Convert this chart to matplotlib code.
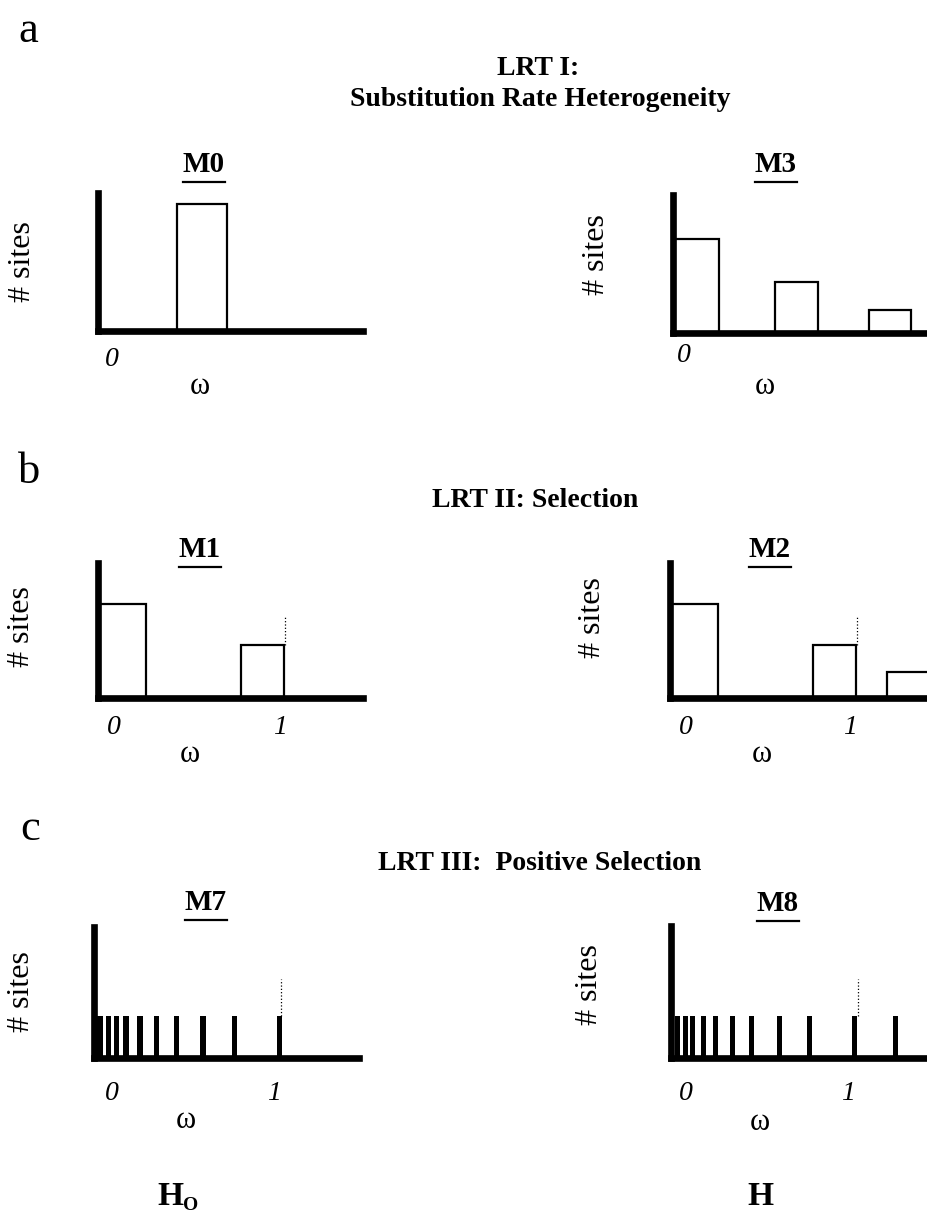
import numpy as np
import matplotlib
matplotlib.use("Agg")
import matplotlib.pyplot as plt
from matplotlib.lines import Line2D

W, H = 928, 1215
DPI = 100
PX_PER_UNIT = 187.0   # pixels per unit of omega
AX_W = 265            # axis length in pixels

plt.rcParams['font.family'] = ['Liberation Serif', 'DejaVu Serif']

# omega classes (bar centres), bar widths and proportion of sites
m0_omega = [0.555]
m0_width = [0.27]
m0_sites = [0.92]

m3_omega = [0.1225, 0.66, 1.16]
m3_width = [0.245, 0.23, 0.225]
m3_sites = [0.68, 0.37, 0.17]

m1_omega = [0.1275, 0.88]
m1_width = [0.255, 0.23]
m1_sites = [0.70, 0.39]

m2_omega = [0.1275, 0.88, 1.275]
m2_width = [0.255, 0.23, 0.23]
m2_sites = [0.70, 0.39, 0.19]

# beta distribution discretised into 10 classes (M7), plus one class with omega > 1 (M8)
m7_omega = [0.032, 0.080, 0.118, 0.171, 0.246, 0.332, 0.439, 0.583, 0.749, 0.990]
m7_sites = [0.32, 0.32, 0.32, 0.32, 0.32, 0.32, 0.32, 0.32, 0.32, 0.32]

m8_omega = [0.035, 0.075, 0.115, 0.174, 0.238, 0.329, 0.430, 0.580, 0.740, 0.981, 1.200]
m8_sites = [0.32, 0.32, 0.32, 0.32, 0.32, 0.32, 0.32, 0.32, 0.32, 0.32, 0.32]

omega_one_mark = 0.60   # top of the dotted line at omega = 1

fig = plt.figure(figsize=(W / DPI, H / DPI), dpi=DPI)
fig.patch.set_facecolor('white')


def make_axes(left, base, top):
    ax = fig.add_axes([left / W, 1 - base / H, AX_W / W, (base - top) / H])
    ax.set_xlim(0, AX_W / PX_PER_UNIT)
    ax.set_ylim(0, 1)
    for side in ['top', 'right']:
        ax.spines[side].set_visible(False)
    for side in ['left', 'bottom']:
        ax.spines[side].set_linewidth(4.8)
        ax.spines[side].set_capstyle('projecting')
    ax.set_xticks([])
    ax.set_yticks([])
    ax.patch.set_alpha(0)
    return ax


def ftext(x, y, s, **kw):
    return fig.text(x / W, 1 - y / H, s, **kw)


def title_m(x, y, s):
    t = ftext(x, y, s, fontsize=21, fontweight='bold', ha='center', va='baseline')
    fig.canvas.draw()
    bb = t.get_window_extent(fig.canvas.get_renderer())
    yy = bb.y0 - 4
    fig.add_artist(Line2D([bb.x0 / W, bb.x1 / W], [yy / H, yy / H], lw=1.6, color='black'))


def open_bars(ax, omega, width, sites):
    ax.bar(omega, sites, width=width, facecolor='white', edgecolor='black', linewidth=1.6, zorder=2)


def spikes(ax, omega, sites):
    ax.bar(omega, sites, width=0.027, color='black', linewidth=0, zorder=2)


def mark_one(ax, base):
    ax.plot([1.0, 1.0], [base, omega_one_mark], linestyle=':', color='black', lw=0.9, zorder=1)


def axis_labels(x_axis, y_base, x_zero, x_one=None, x_w=None, y_w=None, y_sites=None):
    ftext(x_axis, y_sites, '# sites', fontsize=23, rotation=90, ha='center', va='center')
    ftext(x_zero, y_base, '0', fontsize=20, style='italic', ha='center', va='center')
    if x_one is not None:
        ftext(x_one, y_base, '1', fontsize=20, style='italic', ha='center', va='center')
    ftext(x_w, y_w, 'ω', fontsize=22, ha='center', va='center')


# ---- panel a ----
ftext(18, 42, 'a', fontsize=32, ha='left', va='baseline')
ftext(538, 75, 'LRT I:', fontsize=20, fontweight='bold', ha='center', va='baseline')
ftext(540, 106, 'Substitution Rate Heterogeneity', fontsize=20, fontweight='bold',
      ha='center', va='baseline')

ax = make_axes(98, 331, 193)
open_bars(ax, m0_omega, m0_width, m0_sites)
title_m(204, 172, 'M0')
axis_labels(23, 360, 112, x_w=200, y_w=386, y_sites=262)

ax = make_axes(673, 333, 195)
open_bars(ax, m3_omega, m3_width, m3_sites)
title_m(776, 172, 'M3')
axis_labels(597, 356, 684, x_w=765, y_w=387, y_sites=255)

# ---- panel b ----
ftext(18, 483, 'b', fontsize=32, ha='left', va='baseline')
ftext(535, 507, 'LRT II: Selection', fontsize=20, fontweight='bold', ha='center', va='baseline')

ax = make_axes(98, 698, 563)
open_bars(ax, m1_omega, m1_width, m1_sites)
mark_one(ax, m1_sites[1])
title_m(200, 557, 'M1')
axis_labels(22, 727, 114, x_one=280, x_w=190, y_w=755, y_sites=627)

ax = make_axes(670, 698, 563)
open_bars(ax, m2_omega, m2_width, m2_sites)
mark_one(ax, m2_sites[1])
title_m(770, 557, 'M2')
axis_labels(593, 727, 686, x_one=850, x_w=762, y_w=755, y_sites=618)

# ---- panel c ----
ftext(20, 840, 'c', fontsize=32, ha='left', va='baseline')
ftext(540, 870, 'LRT III:  Positive Selection', fontsize=20, fontweight='bold',
      ha='center', va='baseline')

ax = make_axes(94, 1058, 927)
spikes(ax, m7_omega, m7_sites)
mark_one(ax, m7_sites[-1])
title_m(206, 910, 'M7')
axis_labels(22, 1094, 112, x_one=274, x_w=186, y_w=1120, y_sites=992)

ax = make_axes(671, 1058, 926)
spikes(ax, m8_omega, m8_sites)
mark_one(ax, m8_sites[-2])
title_m(778, 911, 'M8')
axis_labels(590, 1094, 686, x_one=848, x_w=760, y_w=1122, y_sites=985)

# hypotheses
ftext(170, 1205, 'H', fontsize=24, fontweight='bold', ha='center', va='baseline')
ftext(191, 1210, 'O', fontsize=14, fontweight='bold', ha='center', va='baseline')
ftext(760, 1205, 'H', fontsize=24, fontweight='bold', ha='center', va='baseline')

fig.savefig('out.png', dpi=DPI, facecolor='white')
